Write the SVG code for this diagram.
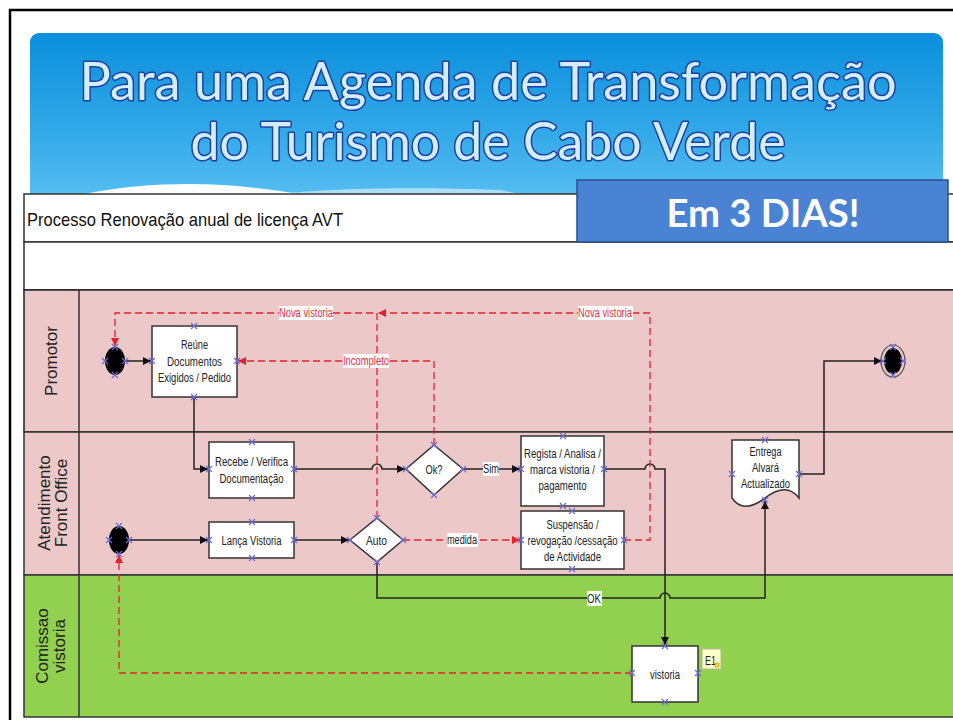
<svg xmlns="http://www.w3.org/2000/svg" width="953" height="720" viewBox="0 0 953 720">
<defs>
<linearGradient id="tg" x1="0" y1="0" x2="0" y2="1">
<stop offset="0" stop-color="#0a8fdc"/>
<stop offset="0.55" stop-color="#31a8e8"/>
<stop offset="1" stop-color="#5cc1f3"/>
</linearGradient>
<marker id="ab" markerUnits="userSpaceOnUse" markerWidth="10" markerHeight="10" refX="8" refY="4" orient="auto"><path d="M0,0 L8,4 L0,8 z" fill="#111"/></marker>
<marker id="ar" markerUnits="userSpaceOnUse" markerWidth="10" markerHeight="10" refX="8" refY="4" orient="auto"><path d="M0,0 L8,4 L0,8 z" fill="#e8202a"/></marker>
<path id="x" d="M-3,-3 L3,3 M-3,3 L3,-3" stroke="#6b6bd6" stroke-width="1.2" fill="none"/>
</defs>
<style>
.title{font-family:Lato,"Open Sans","Liberation Sans",sans-serif;font-size:52px;fill:#d2eefc;stroke:#1f3f9c;stroke-width:3px;stroke-linejoin:round;paint-order:stroke;text-anchor:middle}
.big{font-family:Lato,"Liberation Sans",sans-serif;font-weight:bold;font-size:38px;fill:#fff;text-anchor:middle}
.hdr{font-family:"Liberation Sans",Arial,sans-serif;font-size:19px;fill:#111}
.lane{font-family:"Liberation Sans",Arial,sans-serif;font-size:17px;fill:#222;text-anchor:middle}
.lbl{font-family:"Liberation Sans",Arial,sans-serif;font-size:12px;fill:#222;text-anchor:middle}
.rl{font-family:"Liberation Sans",Arial,sans-serif;font-size:12px;fill:#e8303a;text-anchor:middle}
.box{fill:#fff;stroke:#333;stroke-width:1.5}
.sol{fill:none;stroke:#222;stroke-width:1.5}
.dsh{fill:none;stroke:#e8202a;stroke-width:1.3;stroke-dasharray:7,4}
.lb{fill:#fff}
.ln{fill:none;stroke:#333;stroke-width:1.5}
</style>

<rect width="953" height="720" fill="#fff"/>
<path d="M10,720 V10 H953" fill="none" stroke="#000" stroke-width="2.5"/>

<g id="title">
<rect x="30" y="33" width="913" height="175" rx="9" fill="url(#tg)"/>
<path d="M280,194 C330,188 420,187 500,190 L520,194 Z" fill="#c6e7f8" opacity="0.8"/>
<path d="M80,195 C115,187 155,184 190,184 C230,184 270,189 305,195 Z" fill="#fff"/>
<text class="title" x="488" y="100" textLength="817" lengthAdjust="spacingAndGlyphs">Para uma Agenda de Transformação</text>
<text class="title" x="488" y="160" textLength="595" lengthAdjust="spacingAndGlyphs">do Turismo de Cabo Verde</text>
</g>

<g id="pool">
<rect x="24" y="194" width="940" height="48" fill="#fff" stroke="#333" stroke-width="1.5"/>
<text class="hdr" x="27" y="226" textLength="316" lengthAdjust="spacingAndGlyphs">Processo Renovação anual de licença AVT</text>
<rect x="24" y="242" width="940" height="48" fill="#fff" stroke="#333" stroke-width="1.5"/>
</g>

<g id="lane-promotor">
<rect x="24" y="290" width="940" height="142" fill="#ecc9c8" stroke="#222" stroke-width="1.5"/>
<text class="lane" transform="translate(57,361) rotate(-90)" font-size="18">Promotor</text>
</g>
<g id="lane-front">
<rect x="24" y="432" width="940" height="143" fill="#ecc9c8" stroke="#333" stroke-width="1.5"/>
<text class="lane" transform="translate(50,503) rotate(-90)">Atendimento</text>
<text class="lane" transform="translate(67,503) rotate(-90)">Front Office</text>
</g>
<g id="lane-comissao">
<rect x="24" y="575" width="940" height="142" fill="#92d050" stroke="#333" stroke-width="1.5"/>
<text class="lane" transform="translate(48,646) rotate(-90)">Comissao</text>
<text class="lane" transform="translate(65,646) rotate(-90)">vistoria</text>
</g>
<line x1="79" y1="290" x2="79" y2="717" class="ln"/>

<g id="em3dias">
<rect x="577" y="180" width="371" height="62" fill="#4a83d3" stroke="#2b4f8f" stroke-width="1.5"/>
<text class="big" x="763" y="227" textLength="193" lengthAdjust="spacingAndGlyphs">Em 3 DIAS!</text>
</g>

<g id="connectors">
<path class="sol" d="M125,361 H151" marker-end="url(#ab)"/>
<path class="sol" d="M194,397 V469 H208" marker-end="url(#ab)"/>
<path class="sol" d="M294,469 H372 A5,5 0 0 1 382,469 H405" marker-end="url(#ab)"/>
<path class="sol" d="M463,469 H520" marker-end="url(#ab)"/>
<path class="sol" d="M129,540 H208" marker-end="url(#ab)"/>
<path class="sol" d="M294,540 H349" marker-end="url(#ab)"/>
<path class="sol" d="M604,469 H645 A5,5 0 0 1 655,469 H665 V645" marker-end="url(#ab)"/>
<path class="sol" d="M377,562 V598 H660 A5,5 0 0 1 670,598 H765 V501" marker-end="url(#ab)"/>
<path class="sol" d="M799,474 H824 V361 H882" marker-end="url(#ab)"/>

<path class="dsh" d="M377,518 V313 H115 V346" marker-end="url(#ar)"/>
<path class="dsh" d="M624,540 H650 V313 H378" marker-end="url(#ar)"/>
<path class="dsh" d="M434,445 V361 H238" marker-end="url(#ar)"/>
<path class="dsh" d="M403,540 H520" marker-end="url(#ar)"/>
<path class="dsh" d="M632,673 H119 V555" stroke="#e3452a" marker-end="url(#ar)"/>

<rect class="lb" x="279" y="306" width="54" height="14"/>
<text class="rl" x="306" y="317" textLength="54" lengthAdjust="spacingAndGlyphs">Nova vistoria</text>
<rect class="lb" x="578" y="306" width="55" height="14"/>
<text class="rl" x="605" y="317" textLength="54" lengthAdjust="spacingAndGlyphs">Nova vistoria</text>
<rect class="lb" x="343" y="354" width="46" height="14"/>
<text class="rl" x="366" y="365" textLength="46" lengthAdjust="spacingAndGlyphs">Incompleto</text>
<rect class="lb" x="447" y="533" width="31" height="14"/>
<text class="lbl" x="462" y="544" fill="#222" textLength="30" lengthAdjust="spacingAndGlyphs">medida</text>
<rect class="lb" x="483" y="462" width="16" height="14"/>
<text class="lbl" x="491" y="473" textLength="16" lengthAdjust="spacingAndGlyphs">Sim</text>
<rect class="lb" x="587" y="591" width="15" height="15"/>
<text class="lbl" x="594" y="603" textLength="14" lengthAdjust="spacingAndGlyphs">OK</text>
</g>

<g id="start-promotor">
<ellipse cx="115" cy="361" rx="10" ry="14" fill="#000"/>
<use href="#x" x="115" y="347"/><use href="#x" x="115" y="375"/><use href="#x" x="105" y="361"/><use href="#x" x="125" y="361"/>
</g>

<g id="reune">
<rect class="box" x="152" y="326" width="85" height="71"/>
<text class="lbl" x="194.5" y="349" textLength="27" lengthAdjust="spacingAndGlyphs">Reúne</text>
<text class="lbl" x="194.5" y="366" textLength="55" lengthAdjust="spacingAndGlyphs">Documentos</text>
<text class="lbl" x="194.5" y="382" textLength="73" lengthAdjust="spacingAndGlyphs">Exigidos / Pedido</text>
<use href="#x" x="194" y="326"/><use href="#x" x="194" y="397"/><use href="#x" x="152" y="361"/><use href="#x" x="237" y="361"/>
</g>

<g id="recebe">
<rect class="box" x="209" y="442" width="85" height="56"/>
<text class="lbl" x="251.5" y="466" textLength="73" lengthAdjust="spacingAndGlyphs">Recebe / Verifica</text>
<text class="lbl" x="251.5" y="483" textLength="64" lengthAdjust="spacingAndGlyphs">Documentação</text>
<use href="#x" x="252" y="442"/><use href="#x" x="252" y="498"/><use href="#x" x="209" y="469"/><use href="#x" x="294" y="469"/>
</g>

<g id="start-front">
<ellipse cx="119" cy="540" rx="10" ry="14" fill="#000"/>
<use href="#x" x="119" y="526"/><use href="#x" x="119" y="554"/><use href="#x" x="109" y="540"/><use href="#x" x="129" y="540"/>
</g>

<g id="lanca">
<rect class="box" x="209" y="522" width="85" height="36"/>
<text class="lbl" x="251.5" y="545" textLength="60" lengthAdjust="spacingAndGlyphs">Lança Vistoria</text>
<use href="#x" x="252" y="522"/><use href="#x" x="252" y="558"/><use href="#x" x="209" y="540"/><use href="#x" x="294" y="540"/>
</g>

<g id="ok">
<path class="box" d="M434,445 L463,469 L434,495 L406,469 Z"/>
<text class="lbl" x="434" y="474" textLength="17" lengthAdjust="spacingAndGlyphs">Ok?</text>
<use href="#x" x="434" y="445"/><use href="#x" x="434" y="495"/><use href="#x" x="406" y="469"/><use href="#x" x="463" y="469"/>
</g>

<g id="auto">
<path class="box" d="M377,518 L403,540 L377,562 L350,540 Z"/>
<text class="lbl" x="376.5" y="545" textLength="21" lengthAdjust="spacingAndGlyphs">Auto</text>
<use href="#x" x="377" y="518"/><use href="#x" x="377" y="562"/><use href="#x" x="350" y="540"/><use href="#x" x="403" y="540"/>
</g>

<g id="regista">
<rect class="box" x="521" y="436" width="83" height="70"/>
<text class="lbl" x="562.5" y="458" textLength="77" lengthAdjust="spacingAndGlyphs">Regista / Analisa /</text>
<text class="lbl" x="562.5" y="474" textLength="65" lengthAdjust="spacingAndGlyphs">marca vistoria /</text>
<text class="lbl" x="562.5" y="490" textLength="48" lengthAdjust="spacingAndGlyphs">pagamento</text>
<use href="#x" x="563" y="436"/><use href="#x" x="563" y="506"/><use href="#x" x="521" y="469"/><use href="#x" x="604" y="469"/>
</g>

<g id="suspensao">
<rect class="box" x="521" y="511" width="103" height="58"/>
<text class="lbl" x="572.5" y="529" textLength="52" lengthAdjust="spacingAndGlyphs">Suspensão /</text>
<text class="lbl" x="572.5" y="545" textLength="90" lengthAdjust="spacingAndGlyphs">revogação /cessação</text>
<text class="lbl" x="572.5" y="561" textLength="57" lengthAdjust="spacingAndGlyphs">de Actividade</text>
<use href="#x" x="572" y="511"/><use href="#x" x="572" y="569"/><use href="#x" x="521" y="540"/><use href="#x" x="624" y="540"/>
</g>

<g id="entrega">
<path class="box" d="M732,440 H799 V498 C790,486 778,488 765,498 C752,508 740,510 732,498 Z"/>
<text class="lbl" x="765.5" y="456" textLength="32" lengthAdjust="spacingAndGlyphs">Entrega</text>
<text class="lbl" x="765.5" y="472" textLength="27" lengthAdjust="spacingAndGlyphs">Alvará</text>
<text class="lbl" x="765.5" y="488" textLength="49" lengthAdjust="spacingAndGlyphs">Actualizado</text>
<use href="#x" x="765" y="440"/><use href="#x" x="765" y="500"/><use href="#x" x="732" y="474"/><use href="#x" x="799" y="474"/>
</g>

<g id="end">
<ellipse cx="893" cy="361" rx="12" ry="16" fill="none" stroke="#555" stroke-width="1.2"/>
<ellipse cx="893" cy="361" rx="9" ry="13" fill="#000"/>
<use href="#x" x="893" y="347"/><use href="#x" x="893" y="375"/><use href="#x" x="883" y="361"/><use href="#x" x="903" y="361"/>
</g>

<g id="vistoria">
<rect class="box" x="632" y="646" width="66" height="56"/>
<text class="lbl" x="665" y="679" textLength="30" lengthAdjust="spacingAndGlyphs">vistoria</text>
<use href="#x" x="665" y="646"/><use href="#x" x="665" y="702"/><use href="#x" x="632" y="673"/><use href="#x" x="698" y="673"/>
<rect x="702" y="649" width="19" height="20" fill="#ffffc8" stroke="#b4b49a" stroke-width="1"/>
<text x="705" y="665" font-family="'Liberation Sans',Arial,sans-serif" font-size="13" fill="#222" textLength="11" lengthAdjust="spacingAndGlyphs">E1</text>
<rect x="715" y="663" width="4" height="4" fill="#f2d040" stroke="#b09020" stroke-width="0.6"/>
</g>
</svg>
